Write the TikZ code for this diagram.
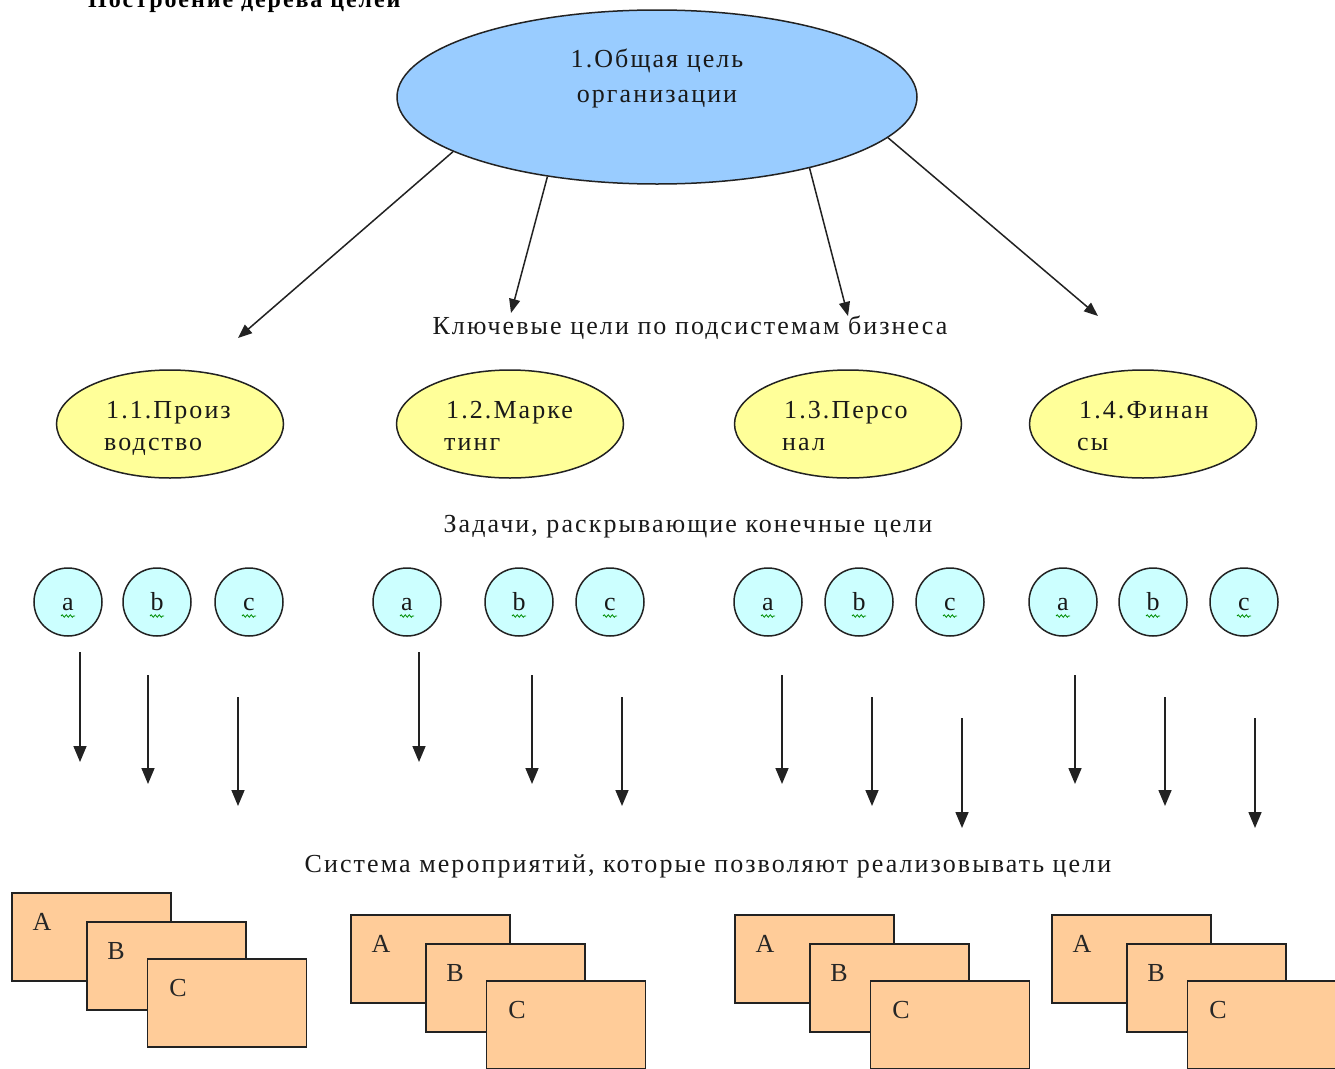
\documentclass[tikz,border=0pt]{standalone}
\usepackage{fontspec}
\setmainfont{Liberation Serif}[LetterSpace=8]
\usetikzlibrary{arrows.meta,shapes.geometric,decorations.pathmorphing,calc}
\definecolor{goalblue}{HTML}{99CCFF}
\definecolor{subyellow}{HTML}{FFFF99}
\definecolor{taskcyan}{HTML}{CCFFFF}
\definecolor{actorange}{HTML}{FFCC99}
\definecolor{lineclr}{HTML}{222222}
\newcommand{\fsz}{\fontsize{26}{33}\selectfont}
\tikzset{
  txt/.style={font=\fsz, inner sep=0pt, text=black!90},
  goal/.style={ellipse, draw=lineclr, line width=1.5pt, fill=goalblue, minimum width=520pt, minimum height=174pt, inner sep=0pt},
  subgoal/.style={ellipse, draw=lineclr, line width=1.5pt, fill=subyellow, minimum width=227pt, minimum height=108pt, inner sep=0pt},
  task/.style={circle, draw=lineclr, line width=1.5pt, fill=taskcyan, minimum size=68pt, inner sep=0pt},
  act/.style={rectangle, draw=lineclr, line width=1.6pt, fill=actorange, minimum width=159pt, minimum height=88pt, inner sep=0pt},
  actlabel/.style={font=\fsz, inner sep=0pt, text=black!85},
  arr/.style={-{Triangle[width=13pt,length=16pt]}, line width=1.6pt, draw=lineclr},
  diagarr/.style={-{Triangle[width=11pt,length=14pt]}, line width=1.5pt, draw=lineclr},
  squig/.style={draw=green!55!black, line width=0.8pt, decorate, decoration={snake, amplitude=1.2pt, segment length=4pt}}
}
\begin{document}
\begin{tikzpicture}[x=1pt, y=-1pt]
\useasboundingbox (0,0) rectangle (1335,1068);
\clip (0,0) rectangle (1335,1068);
\fill[white] (0,0) rectangle (1335,1068);

% title, cut off at the top edge as in the reference
\node[anchor=base west, font=\bfseries\fontsize{24}{24}\selectfont, inner sep=0pt] (title) at (88,7) {Построение дерева целей};

% general goal
\node[goal] (goal) at (657,97) {};
\node[txt, align=center, font=\fontsize{26}{35}\selectfont] (goaltxt) at (657,78) {1.Общая цель\\организации};

% labels
\node[txt] (lab1) at (690,328) {Ключевые цели по подсистемам бизнеса};
\node[txt] (lab2) at (688,527) {Задачи, раскрывающие конечные цели};
\node[txt] (lab3) at (708,866) {Система мероприятий, которые позволяют реализовывать цели};

% subgoals
\foreach \name/\x/\la/\lb in {s1/170/1.1.Произ/водство, s2/510/1.2.Марке/тинг,
                               s3/848/1.3.Персо/нал, s4/1143/1.4.Финан/сы}{
  \node[subgoal] (\name) at (\x,424) {};
  \node[txt, anchor=base west] (\name a) at (\x-64,418) {\la};
  \node[txt, anchor=base west] (\name b) at (\x-66,450) {\lb};
}

% diagonal arrows
\coordinate (d1) at (238,338);
\coordinate (d2) at (511,313);
\coordinate (d3) at (848,316);
\coordinate (d4) at (1098,316);
\draw[diagarr] (goal.195) -- (d1);
\draw[diagarr] (goal.216) -- (d2);
\draw[diagarr] (goal.335) -- (d3);
\draw[diagarr] (goal.350) -- (d4);

% tasks
\foreach \name/\x/\l in {t1a/68/a, t1b/157/b, t1c/249/c,
                          t2a/407/a, t2b/519/b, t2c/610/c,
                          t3a/768/a, t3b/859/b, t3c/950/c,
                          t4a/1063/a, t4b/1153/b, t4c/1244/c}{
  \node[task] (\name) at (\x,602) {};
  \node[txt, anchor=base] (\name l) at (\x,610) {\l};
  \draw[squig] (\x-7,616) -- (\x+7,616);
}

% vertical arrows
\foreach \i/\x/\ya/\yb in {1/80/652/762, 2/148/675/784, 3/238/697/806,
                            4/419/652/762, 5/532/675/784, 6/622/697/806,
                            7/782/675/784, 8/872/697/806, 9/962/718/828,
                            10/1075/675/784, 11/1165/697/806, 12/1255/718/828}{
  \coordinate (vs\i) at (\x,\ya);
  \coordinate (ve\i) at (\x,\yb);
  \draw[arr] (vs\i) -- (ve\i);
}

% activity cards
\foreach \g/\dx/\dy in {1/0/0, 2/339/22, 3/723/22, 4/1040/22}{
  \node[act] (A\g) at (91.5+\dx,937+\dy) {};
  \node[actlabel] (lA\g) at ($(A\g.center)+(-49.5,-15)$) {A};
  \node[act] (B\g) at (166.5+\dx,966+\dy) {};
  \node[actlabel] (lB\g) at ($(B\g.center)+(-50.5,-15)$) {B};
  \node[act] (C\g) at (227+\dx,1003+\dy) {};
  \node[actlabel] (lC\g) at ($(C\g.center)+(-49,-15)$) {C};
}
\end{tikzpicture}
\end{document}
